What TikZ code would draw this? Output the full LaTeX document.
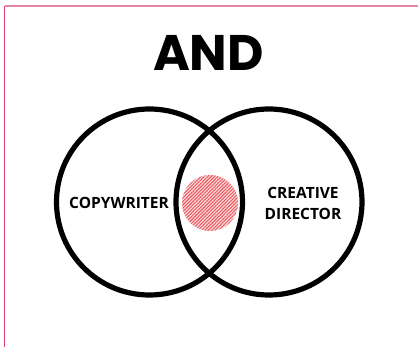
\documentclass[tikz,border=0pt]{standalone}
\usepackage{fontspec}
\usepackage{xcolor}
\usepackage{tikz}
\usetikzlibrary{patterns.meta,positioning}
\newfontfamily\titlefont{Poppins}
\newfontfamily\labelfont{Open Sans}
\definecolor{frameTop}{HTML}{E585A2}
\definecolor{frameSide}{HTML}{DD3F78}
\definecolor{hatchRed}{HTML}{EE5A5F}

\tikzset{
  vennset/.style={circle, draw=black, line width=5.2pt, minimum size=186pt, inner sep=0pt},
  rolelabel/.style={font=\labelfont\bfseries\fontsize{15.5}{21}\selectfont, align=center, inner sep=0pt},
}

\begin{document}
\begin{tikzpicture}[x=1pt, y=-1pt]
\useasboundingbox (0,0) rectangle (418,347);
% ---- frame: top and left edges only ----
\draw[frameTop, line width=1.8pt] (4.5,5.8) -- (418,5.8);
\draw[frameSide, line width=1.5pt] (4.5,5.8) -- (4.5,347);
% ---- title ----
\node[font=\titlefont\bfseries\fontsize{50}{50}\selectfont, inner sep=0pt] (title) at (208.5,53) {AND};
% ---- overlap: hatched spot ----
\node[circle, minimum size=56pt, inner sep=0pt, fill=hatchRed!18,
  postaction={pattern={Lines[angle=45, distance=2.4pt, line width=1.1pt]}, pattern color=hatchRed}] (spot) at (210,203) {};
% ---- the two sets ----
\node[vennset] (copy) at (149.5,202) {};
\node[vennset] (creative) at (269,202) {};
\node[rolelabel] (copylabel) at (119,203) {COPYWRITER};
\node[rolelabel] (creativelabel) at (303,203.5) {CREATIVE\\DIRECTOR};
\end{tikzpicture}
\end{document}
